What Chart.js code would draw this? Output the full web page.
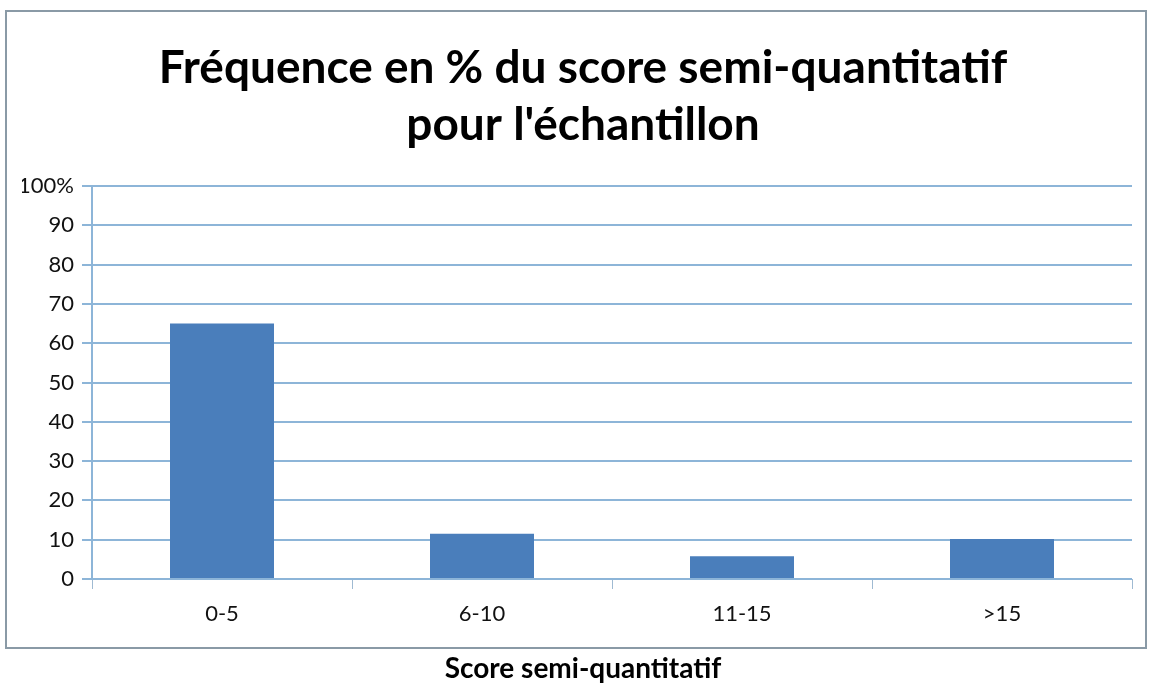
<!DOCTYPE html>
<html>
<head>
<meta charset="utf-8">
<script src="https://cdn.jsdelivr.net/npm/chart.js@4/dist/chart.umd.min.js"></script>
<style>
  html, body { margin: 0; padding: 0; background: #fff; }
  #wrap { width: 1152px; height: 686px; position: relative; }
</style>
</head>
<body>
<div id="wrap"><canvas id="chart1" width="1152" height="686"></canvas></div>
<script>
'use strict';

// data
var categories = ['0-5', '6-10', '11-15', '>15'];
var frequencies = [65, 11.5, 5.8, 10.2];
var titleLines = ['Fréquence en % du score semi-quantitatif', 'pour l\'échantillon'];
var xTitle = 'Score semi-quantitatif';
var yMax = 100;
var yStep = 10;

var fontName = 'Lato, "Open Sans", sans-serif';

// frame around plot + title (x title sits outside it)
var framePlugin = {
  id: 'frame',
  beforeDraw: function(chart){
    var ctx = chart.ctx;
    ctx.save();
    ctx.fillStyle = '#fff';
    ctx.fillRect(0, 0, chart.width, chart.height);
    ctx.strokeStyle = '#8a9aa6';
    ctx.lineWidth = 2;
    ctx.strokeRect(6, 11, 1140, 637);
    ctx.restore();
  }
};

var canvas = document.getElementById('chart1');
var context = canvas.getContext('2d');
new Chart(context, {
  type: 'bar',
  data: {
    labels: categories,
    datasets: [{
      data: frequencies,
      backgroundColor: '#4a7ebb',
      borderWidth: 0,
      categoryPercentage: 0.4,
      barPercentage: 1
    }]
  },
  options: {
    responsive: false,
    animation: false,
    devicePixelRatio: 1,
    layout: { padding: { left: 22, right: 8, top: 33, bottom: 0 } },
    plugins: {
      legend: { display: false },
      tooltip: { enabled: false },
      title: {
        display: true,
        text: titleLines,
        color: '#000',
        font: { family: fontName, size: 46, weight: 'bold', lineHeight: 1.25 },
        padding: { top: 6, bottom: 32 }
      },
      // x axis title, centred on the whole page like the original
      subtitle: {
        display: true,
        position: 'bottom',
        text: xTitle,
        color: '#000',
        font: { family: fontName, size: 28, weight: 'bold', lineHeight: 1.2 },
        padding: { top: 13, bottom: 0 }
      }
    },
    scales: {
      x: {
        grid: {
          display: true,
          drawOnChartArea: false,
          color: '#9fbad2',
          tickLength: 10,
          offset: true
        },
        border: { display: false },
        ticks: {
          color: '#111',
          font: { family: fontName, size: 22 },
          padding: 12
        }
      },
      y: {
        min: 0,
        max: yMax,
        grid: {
          color: '#8db5d8',
          lineWidth: 2,
          tickLength: 10
        },
        border: { display: true, color: '#8db5d8', width: 2 },
        ticks: {
          stepSize: yStep,
          color: '#111',
          font: { family: fontName, size: 22 },
          padding: 8,
          callback: function(value){
            return value === yMax ? value + '%' : value;
          }
        },
        afterFit: function(scale){
          scale.width = 70;
        }
      },
      // empty spacer on the right so the plot ends inside the frame
      yRight: {
        position: 'right',
        min: 0,
        max: yMax,
        grid: { display: false },
        border: { display: false },
        ticks: { display: false },
        afterFit: function(scale){
          scale.width = 12;
        }
      }
    }
  },
  plugins: [framePlugin]
});
</script>
</body>
</html>
